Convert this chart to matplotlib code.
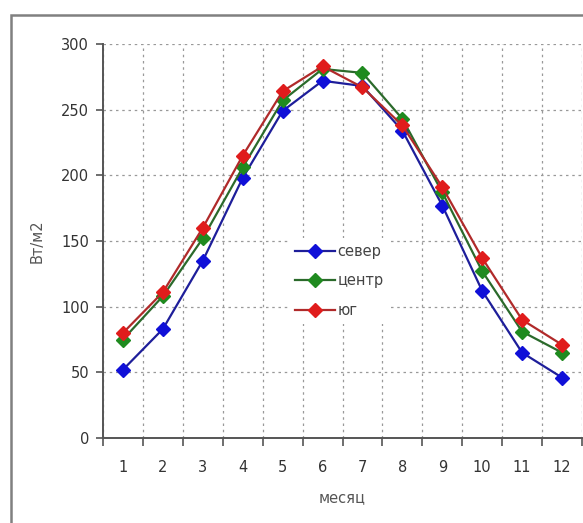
import matplotlib
matplotlib.use("Agg")
import matplotlib.pyplot as plt
from matplotlib.patches import Rectangle
from matplotlib.ticker import FixedLocator, NullFormatter
import numpy as np

months = [1, 2, 3, 4, 5, 6, 7, 8, 9, 10, 11, 12]
sever = [52, 83, 135, 198, 249, 272, 268, 234, 177, 112, 65, 46]
centr = [75, 108, 152, 206, 257, 281, 278, 243, 187, 127, 81, 65]
yug = [80, 111, 160, 215, 264, 283, 267, 238, 191, 137, 90, 71]
series_names = ["север", "центр", "юг"]
yticks = [0, 50, 100, 150, 200, 250, 300]

plt.rcParams['font.family'] = ['DejaVu Sans']

W, H = 583, 523
fig = plt.figure(figsize=(W / 100, H / 100), dpi=100)
fig.patch.set_facecolor('white')

# outer chart frame
fig.patches.append(Rectangle((11 / W, -0.1), 1.2, 1 - 15 / H + 0.1,
                             transform=fig.transFigure, fill=False,
                             edgecolor='#808080', linewidth=1.8, zorder=0))

ax = fig.add_axes([103 / W, 1 - 438 / H, (582 - 103) / W, (438 - 44) / H])

line_colors = ['#1e1e9a', '#2b6a2b', '#b02a2a']
marker_colors = ['#1010d8', '#1f8a1f', '#e01c1c']
x = np.arange(len(months))
for vals, name, lc, mc in zip([sever, centr, yug], series_names, line_colors, marker_colors):
    ax.plot(x, vals, color=lc, lw=1.6, marker='D', markersize=6.8,
            markerfacecolor=mc, markeredgecolor=mc, label=name, zorder=3)

ax.set_xlim(-0.5, len(months) - 0.5)
ax.set_ylim(0, 300)
ax.set_yticks(yticks)
ax.set_xticks(x)
ax.set_xticklabels([str(m) for m in months])
ax.xaxis.set_minor_locator(FixedLocator(np.arange(-0.5, len(months), 1.0)))
ax.xaxis.set_minor_formatter(NullFormatter())
ax.tick_params(axis='x', which='major', length=0, pad=16, labelsize=10.5, labelcolor='#333333')
ax.tick_params(axis='x', which='minor', length=6, width=1.2, color='#555555', direction='out')
ax.tick_params(axis='y', length=5, width=1.2, color='#555555', direction='out',
               labelsize=10.5, labelcolor='#333333', pad=5)

ax.grid(True, which='minor', axis='x', color='#999999', linestyle=(0, (2, 3)), lw=0.9)
ax.grid(True, which='major', axis='y', color='#999999', linestyle=(0, (2, 3)), lw=0.9)
ax.set_axisbelow(True)

for s in ['top', 'right']:
    ax.spines[s].set_visible(False)
for s in ['left', 'bottom']:
    ax.spines[s].set_color('#555555')
    ax.spines[s].set_linewidth(1.4)

ax.set_xlabel('месяц', fontsize=10.5, color='#555555', labelpad=11)
ax.set_ylabel('Вт/м2', fontsize=10.5, color='#555555', labelpad=12)

leg = ax.legend(loc='center left', bbox_to_anchor=((282 - 103) / 479, (438 - 281) / 394),
                frameon=True, fontsize=10.5, handlelength=2.7, handletextpad=0.2,
                borderpad=0.4, labelspacing=1.0, fancybox=False)
leg.get_frame().set_edgecolor('none')
leg.get_frame().set_facecolor('white')
leg.get_frame().set_alpha(1.0)
for t in leg.get_texts():
    t.set_color('#444444')

fig.savefig('out.png', dpi=100)
